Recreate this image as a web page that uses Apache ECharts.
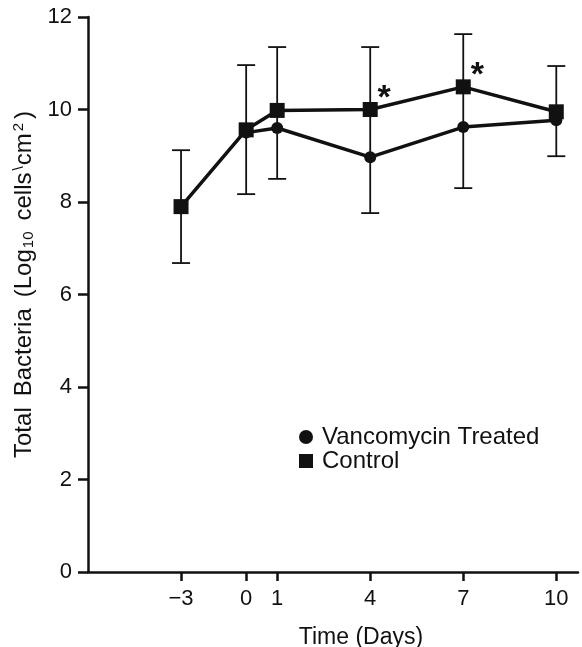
<!DOCTYPE html>
<html>
<head>
<meta charset="utf-8">
<script src="https://cdn.jsdelivr.net/npm/echarts@6/dist/echarts.min.js"></script>
<style>
  html, body { margin: 0; padding: 0; background: #fff; }
  #main { width: 582px; height: 647px; }
</style>
</head>
<body>
<div id="main"></div>
<script>
// days as printed, and where each one sits on the axis (scale is squeezed before day 0)
const dayLabels = ['−3', '0', '1', '4', '7', '10'];
const dayPos = [-2.1, 0, 1, 4, 7, 10];
// log10 cells/cm2
const vancomycin = [null, 9.5, 9.6, 8.97, 9.62, 9.77];
const control = [7.9, 9.56, 9.98, 10.0, 10.49, 9.95];
// error bars (one per day, spanning both groups)
const errLow = [6.68, 8.17, 8.5, 7.76, 8.3, 8.99];
const errHigh = [9.12, 10.96, 11.35, 11.35, 11.63, 10.94];
const significant = [false, false, false, true, true, false];

const FONT = '"Liberation Sans", Arial, sans-serif';
const INK = '#111';

var vancoData = [];
var controlData = [];
var errData = [];
for (let i = 0; i < dayPos.length; i++) {
  if (vancomycin[i] != null) vancoData.push([dayPos[i], vancomycin[i]]);
  var item = { value: [dayPos[i], control[i]] };
  if (significant[i]) {
    item.label = {
      show: true, position: 'inside', offset: [14, -11], formatter: '*',
      fontSize: 34, fontWeight: 'bold', color: INK, fontFamily: FONT
    };
  }
  controlData.push(item);
  errData.push([dayPos[i], errLow[i], errHigh[i]]);
}

var myChart = echarts.init(document.getElementById('main'));
var option = {
  animation: false,
  backgroundColor: '#fff',
  grid: { left: 88, right: 4, top: 17, bottom: 75, containLabel: false, outerBoundsMode: 'none' },
  legend: {
    orient: 'vertical',
    left: 299, top: 425, padding: 0,
    itemWidth: 14, itemHeight: 14, itemGap: 0,
    selectedMode: false,
    textStyle: { fontSize: 24, color: INK, fontFamily: FONT, padding: [0, 0, 0, 4] },
    data: [
      { name: 'Vancomycin Treated', icon: 'circle' },
      { name: 'Control', icon: 'rect' }
    ]
  },
  xAxis: {
    type: 'value',
    min: -5.1, max: 10.7,
    name: 'Time (Days)',
    nameLocation: 'middle',
    nameGap: 54,
    nameTextStyle: { fontSize: 23, color: INK, fontFamily: FONT, padding: [0, 0, 0, 56] },
    axisLine: { show: true, onZero: false, lineStyle: { color: INK, width: 2.5 } },
    axisTick: { show: true, customValues: dayPos, length: 9, lineStyle: { color: INK, width: 2.5 } },
    axisLabel: {
      customValues: dayPos, margin: 16,
      fontSize: 22, color: INK, fontFamily: FONT,
      formatter: function (v) {
        var i = dayPos.indexOf(v);
        return i >= 0 ? dayLabels[i] : '';
      }
    },
    splitLine: { show: false }
  },
  yAxis: {
    type: 'value',
    min: 0, max: 12, interval: 2,
    name: '{t|Total}{g|Bacteria}{g|(Log}{sub|10}{g|cells}{sup|\\}{t|cm}{sup|2}{p|)}',
    nameLocation: 'middle',
    nameRotate: 90,
    nameGap: 39,
    nameTextStyle: {
      color: INK, fontFamily: FONT, padding: [6, 0, 0, 20],
      rich: {
        t: { fontSize: 24, color: INK, fontFamily: FONT },
        g: { fontSize: 24, color: INK, fontFamily: FONT, padding: [0, 0, 0, 11] },
        p: { fontSize: 24, color: INK, fontFamily: FONT, padding: [0, 0, 0, 3] },
        sub: { fontSize: 15, color: INK, fontFamily: FONT, padding: [10, 0, 0, 1] },
        sup: { fontSize: 15, color: INK, fontFamily: FONT, padding: [0, 1, 10, 2] }
      }
    },
    axisLine: { show: true, onZero: false, lineStyle: { color: INK, width: 2.5 } },
    axisTick: { show: true, length: 10, lineStyle: { color: INK, width: 2.5 } },
    axisLabel: { margin: 16, fontSize: 22, color: INK, fontFamily: FONT },
    splitLine: { show: false }
  },
  series: [
    {
      name: 'errors',
      type: 'custom',
      data: errData,
      encode: { x: 0, y: [1, 2] },
      z: 1,
      renderItem: function (params, api) {
        var x = api.value(0);
        var lo = api.coord([x, api.value(1)]);
        var hi = api.coord([x, api.value(2)]);
        var w = 9;
        var st = { stroke: INK, lineWidth: 1.8 };
        return {
          type: 'group',
          children: [
            { type: 'line', shape: { x1: lo[0], y1: lo[1], x2: hi[0], y2: hi[1] }, style: st },
            { type: 'line', shape: { x1: lo[0] - w, y1: lo[1], x2: lo[0] + w, y2: lo[1] }, style: st },
            { type: 'line', shape: { x1: hi[0] - w, y1: hi[1], x2: hi[0] + w, y2: hi[1] }, style: st }
          ]
        };
      }
    },
    {
      name: 'Vancomycin Treated',
      type: 'line',
      data: vancoData,
      symbol: 'circle',
      symbolSize: 12,
      z: 3,
      lineStyle: { color: INK, width: 3.5 },
      itemStyle: { color: INK }
    },
    {
      name: 'Control',
      type: 'line',
      data: controlData,
      symbol: 'rect',
      symbolSize: 15,
      z: 4,
      lineStyle: { color: INK, width: 3.5 },
      itemStyle: { color: INK }
    }
  ]
};
myChart.setOption(option);
</script>
</body>
</html>
